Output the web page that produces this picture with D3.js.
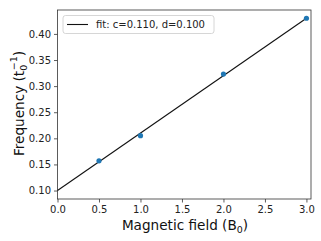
<!DOCTYPE html>
<html><head><meta charset="utf-8">
<script src="https://cdn.jsdelivr.net/npm/d3@7"></script>
<style>body{margin:0;background:#fff}svg{display:block}text{font-family:"DejaVu Sans",sans-serif}</style>
</head><body><svg id="c" width="321" height="241"></svg>
<script>
const xValues = [0.5, 1.0, 2.0, 3.0];
const yValues = [0.157, 0.205, 0.323, 0.430];
const fitC = 0.110, fitD = 0.100;
const xTicks = [0.0, 0.5, 1.0, 1.5, 2.0, 2.5, 3.0];
const yTicks = [0.10, 0.15, 0.20, 0.25, 0.30, 0.35, 0.40];
const legendLabel = "fit: c=0.110, d=0.100";

const svg = d3.select("#c");
const L = 57.5, R = 311, T = 10, B = 199;
const x = d3.scaleLinear().domain([0, 3.055]).range([L, R]);
const y = d3.scaleLinear().domain([0.0838, 0.4458]).range([B, T]);

const xa = svg.append("g").attr("transform", `translate(0,${B})`)
  .call(d3.axisBottom(x).tickValues(xTicks).tickFormat(d3.format(".1f")).tickSize(3.5).tickPadding(3));
const ya = svg.append("g").attr("transform", `translate(${L},0)`)
  .call(d3.axisLeft(y).tickValues(yTicks).tickFormat(d3.format(".2f")).tickSize(3.5).tickPadding(3));
[xa, ya].forEach(a => {
  a.select(".domain").remove();
  a.selectAll("text").attr("font-size", 10).attr("fill", "#222").attr("font-family", "DejaVu Sans");
  a.selectAll("line").attr("stroke", "#333").attr("stroke-width", 0.8);
});
svg.append("rect").attr("x", L).attr("y", T).attr("width", R - L).attr("height", B - T)
  .attr("fill", "none").attr("stroke", "#333").attr("stroke-width", 0.8);

// fit line
const fx = [0, 3];
svg.append("line").attr("x1", x(fx[0])).attr("y1", y(fitC * fx[0] + fitD))
  .attr("x2", x(fx[1])).attr("y2", y(fitC * fx[1] + fitD))
  .attr("stroke", "#111").attr("stroke-width", 1.1);

svg.selectAll("circle.pt").data(xValues).enter().append("circle")
  .attr("cx", d => x(d)).attr("cy", (d, i) => y(yValues[i])).attr("r", 2.6).attr("fill", "#1f77b4");

// legend
const lg = svg.append("g");
lg.append("rect").attr("x", 63).attr("y", 15.5).attr("width", 151).attr("height", 18).attr("rx", 2.5)
  .attr("fill", "#fff").attr("stroke", "#ccc").attr("stroke-width", 0.8);
lg.append("line").attr("x1", 67).attr("x2", 88).attr("y1", 24.5).attr("y2", 24.5).attr("stroke", "#111").attr("stroke-width", 1.1);
lg.append("text").attr("x", 96).attr("y", 28.3).attr("font-size", 10).attr("fill", "#222").text(legendLabel);

// axis labels
const xl = svg.append("text").attr("x", 185).attr("y", 229.5).attr("text-anchor", "middle").attr("font-size", 13.6).attr("fill", "#111");
xl.append("tspan").text("Magnetic field (B");
xl.append("tspan").attr("font-size", 9.5).attr("dy", 3).text("0");
xl.append("tspan").attr("dy", -3).text(")");

const yl = svg.append("text").attr("transform", `translate(23.5,103.5) rotate(-90)`).attr("text-anchor", "middle").attr("font-size", 13.6).attr("fill", "#111");
yl.append("tspan").text("Frequency (t");
yl.append("tspan").attr("font-size", 9.5).attr("dy", 3).text("0");
yl.append("tspan").attr("font-size", 9.5).attr("dy", -9.5).attr("dx", -5.5).text("−1");
yl.append("tspan").attr("dy", 6.5).text(")");
</script></body></html>
